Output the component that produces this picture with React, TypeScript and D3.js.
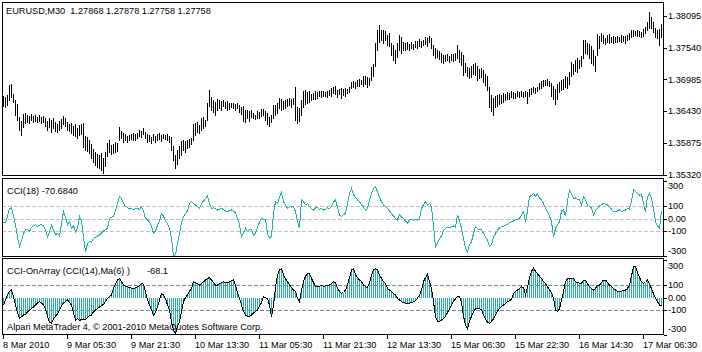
import * as d3 from "d3";

// bar-by-bar values (EURUSD M30)
const barHigh = [
  1.3669, 1.3668, 1.3671, 1.3689, 1.369, 1.3673, 1.3662, 1.3655, 1.3633, 1.3626,
  1.3638, 1.364, 1.3636, 1.3635, 1.3638, 1.3635, 1.3636, 1.3633, 1.3636, 1.3633,
  1.3635, 1.3631, 1.3626, 1.3631, 1.3628, 1.3631, 1.3624, 1.3621, 1.3626, 1.3629,
  1.3635, 1.3631, 1.3624, 1.3621, 1.3622, 1.3617, 1.3621, 1.3614, 1.3619, 1.3621,
  1.3622, 1.36, 1.3598, 1.3593, 1.3586, 1.3577, 1.3572, 1.3568, 1.3566, 1.357,
  1.3561, 1.3572, 1.3587, 1.3593, 1.3584, 1.3586, 1.3589, 1.3587, 1.3615, 1.3608,
  1.3605, 1.3603, 1.36, 1.3601, 1.3603, 1.3605, 1.3603, 1.3605, 1.361, 1.3608,
  1.3614, 1.3607, 1.3603, 1.3601, 1.3598, 1.3603, 1.36, 1.3603, 1.3605, 1.3601,
  1.3603, 1.3601, 1.3603, 1.36, 1.3598, 1.3582, 1.3566, 1.3575, 1.3582, 1.3591,
  1.3593, 1.3591, 1.3593, 1.3594, 1.3596, 1.3621, 1.3622, 1.3624, 1.3619, 1.3631,
  1.3633, 1.3628, 1.3657, 1.368, 1.3668, 1.3662, 1.3659, 1.3664, 1.3662, 1.3661,
  1.3662, 1.3659, 1.3661, 1.3657, 1.3657, 1.3657, 1.3655, 1.3657, 1.3654, 1.365,
  1.3652, 1.3645, 1.3645, 1.3643, 1.3645, 1.364, 1.3636, 1.3643, 1.3642, 1.3647,
  1.3647, 1.3643, 1.364, 1.3633, 1.3636, 1.3654, 1.3654, 1.3657, 1.3666, 1.3664,
  1.3661, 1.3662, 1.3664, 1.3666, 1.3664, 1.3666, 1.3685, 1.365, 1.3648, 1.3662,
  1.3678, 1.368, 1.3676, 1.3678, 1.3673, 1.3675, 1.3678, 1.3676, 1.3678, 1.3678,
  1.3678, 1.3676, 1.3678, 1.368, 1.3683, 1.3685, 1.3687, 1.368, 1.3682, 1.3683,
  1.3682, 1.3683, 1.3682, 1.3685, 1.3694, 1.3696, 1.3694, 1.3697, 1.3699, 1.3697,
  1.3704, 1.3704, 1.3703, 1.3701, 1.372, 1.3725, 1.3762, 1.3785, 1.3793, 1.3785,
  1.3785, 1.3783, 1.3776, 1.3779, 1.3762, 1.3758, 1.375, 1.3762, 1.3776, 1.3772,
  1.3764, 1.3762, 1.3764, 1.376, 1.3764, 1.376, 1.3765, 1.3765, 1.3769, 1.3765,
  1.3767, 1.3772, 1.3771, 1.3774, 1.3771, 1.3758, 1.3753, 1.375, 1.3748, 1.3744,
  1.3741, 1.3741, 1.3743, 1.3739, 1.3743, 1.3743, 1.3744, 1.3758, 1.375, 1.3746,
  1.3741, 1.3727, 1.372, 1.3718, 1.3722, 1.3725, 1.3727, 1.3722, 1.3717, 1.3718,
  1.3715, 1.3708, 1.3704, 1.3685, 1.3671, 1.3666, 1.3669, 1.3671, 1.3673, 1.3671,
  1.3675, 1.3673, 1.3676, 1.3675, 1.3678, 1.3676, 1.3675, 1.3678, 1.3676, 1.3678,
  1.3676, 1.3678, 1.3676, 1.3682, 1.3683, 1.3685, 1.3683, 1.3685, 1.3692, 1.3696,
  1.3697, 1.3697, 1.3699, 1.3696, 1.3692, 1.3687, 1.3682, 1.369, 1.3694, 1.3697,
  1.3699, 1.3704, 1.3703, 1.3711, 1.3729, 1.3725, 1.3732, 1.3736, 1.3732, 1.3739,
  1.3767, 1.3767, 1.3762, 1.376, 1.3757, 1.375, 1.3739, 1.3778, 1.3774, 1.3779,
  1.3776, 1.3771, 1.3776, 1.3778, 1.3772, 1.3774, 1.3772, 1.3774, 1.3772, 1.3776,
  1.3774, 1.3774, 1.3776, 1.3779, 1.3785, 1.3785, 1.3783, 1.3785, 1.3783, 1.3781,
  1.3786, 1.379, 1.3799, 1.3816, 1.3807, 1.3799, 1.3788, 1.3785, 1.3786, 1.3795,
];

const barLow = [
  1.3652, 1.365, 1.3654, 1.3662, 1.3668, 1.3659, 1.3636, 1.3628, 1.361, 1.3601,
  1.3615, 1.3622, 1.3624, 1.3622, 1.3628, 1.3624, 1.3626, 1.3624, 1.3626, 1.3622,
  1.3624, 1.3617, 1.361, 1.3615, 1.3607, 1.3614, 1.3608, 1.3607, 1.361, 1.3614,
  1.3621, 1.3617, 1.361, 1.3608, 1.3605, 1.3601, 1.36, 1.3596, 1.3601, 1.3603,
  1.358, 1.3575, 1.3573, 1.357, 1.3561, 1.3554, 1.3549, 1.3546, 1.3544, 1.354,
  1.3535, 1.3547, 1.3565, 1.3572, 1.3568, 1.357, 1.3572, 1.3573, 1.3593, 1.3596,
  1.3589, 1.3593, 1.3589, 1.3593, 1.3594, 1.3593, 1.3593, 1.3596, 1.36, 1.3598,
  1.3603, 1.3596, 1.3589, 1.3591, 1.3587, 1.3593, 1.3589, 1.3593, 1.3594, 1.3591,
  1.3596, 1.3594, 1.3593, 1.3589, 1.3575, 1.3558, 1.3544, 1.3551, 1.3561, 1.3566,
  1.3575, 1.3572, 1.3579, 1.358, 1.3586, 1.3593, 1.3601, 1.3607, 1.3605, 1.361,
  1.3614, 1.3617, 1.3628, 1.3652, 1.3645, 1.3642, 1.3636, 1.3645, 1.3648, 1.3645,
  1.3652, 1.3648, 1.3645, 1.3647, 1.365, 1.3648, 1.3645, 1.3648, 1.3642, 1.3638,
  1.3626, 1.3624, 1.3631, 1.3626, 1.3633, 1.3631, 1.3629, 1.3631, 1.3631, 1.3635,
  1.3636, 1.3628, 1.3621, 1.3617, 1.3624, 1.3631, 1.3636, 1.364, 1.3648, 1.3645,
  1.3647, 1.3648, 1.3652, 1.3654, 1.365, 1.3655, 1.3628, 1.3622, 1.3626, 1.3636,
  1.365, 1.3655, 1.3657, 1.3659, 1.3662, 1.3664, 1.3664, 1.3666, 1.3669, 1.3668,
  1.3669, 1.3669, 1.3668, 1.3671, 1.3669, 1.3675, 1.3673, 1.3668, 1.3673, 1.3666,
  1.3671, 1.3669, 1.3675, 1.3676, 1.3683, 1.3685, 1.3683, 1.3687, 1.3687, 1.369,
  1.3687, 1.369, 1.3685, 1.3689, 1.3697, 1.3704, 1.3722, 1.375, 1.3764, 1.3767,
  1.3762, 1.3767, 1.3758, 1.3757, 1.3741, 1.3732, 1.3727, 1.3737, 1.375, 1.3744,
  1.375, 1.375, 1.3751, 1.375, 1.3753, 1.3751, 1.3755, 1.3753, 1.3757, 1.3755,
  1.3758, 1.376, 1.3757, 1.3764, 1.3753, 1.3741, 1.3736, 1.3737, 1.3734, 1.3729,
  1.3727, 1.3731, 1.3732, 1.3729, 1.3732, 1.3731, 1.3732, 1.3736, 1.3729, 1.3724,
  1.3706, 1.3711, 1.3704, 1.3701, 1.3703, 1.3708, 1.3706, 1.3697, 1.3701, 1.3703,
  1.3694, 1.3689, 1.368, 1.365, 1.3643, 1.3636, 1.365, 1.3652, 1.3655, 1.3657,
  1.3659, 1.3662, 1.3664, 1.3664, 1.3668, 1.3666, 1.3666, 1.3669, 1.3668, 1.3669,
  1.3668, 1.3669, 1.3657, 1.3669, 1.3673, 1.3676, 1.3675, 1.3678, 1.3682, 1.3683,
  1.3687, 1.3689, 1.3689, 1.3687, 1.3669, 1.3664, 1.3655, 1.3664, 1.3676, 1.368,
  1.3682, 1.3685, 1.3683, 1.369, 1.3704, 1.3708, 1.3713, 1.3711, 1.3718, 1.3722,
  1.3736, 1.3744, 1.3743, 1.3736, 1.3727, 1.3724, 1.3713, 1.3741, 1.3753, 1.3765,
  1.3762, 1.376, 1.3764, 1.3762, 1.3764, 1.3762, 1.3764, 1.3764, 1.3765, 1.3764,
  1.3765, 1.3762, 1.3767, 1.3769, 1.3772, 1.3774, 1.3776, 1.3774, 1.3774, 1.3772,
  1.3774, 1.3779, 1.3785, 1.3788, 1.3788, 1.3781, 1.3772, 1.3771, 1.3758, 1.3772,
];

const cci18 = [
  -30, -35, 20, 80, 87, 20, -52, -150, -225, -180,
  -120, -92, -85, -105, -70, -55, -50, -62, -55, -48,
  -60, -92, -145, -110, -52, -90, -130, -118, -140, -40,
  55, 10, -50, -25, -79, -60, -105, -80, 15, -20,
  -150, -265, -200, -185, -190, -159, -150, -140, -132, -118,
  -100, -90, -79, 1, 10, 15, 60, 120, 175, 160,
  120, 95, 90, 75, 80, 70, 78, 81, 72, 95,
  60, 1, -10, -30, -60, -118, -100, -52, -20, 41,
  20, -25, -40, -79, -160, -305, -290, -200, -120, -30,
  15, 40, 60, 121, 135, 120, 108, 95, 81, 121,
  140, 160, 180, 120, 81, 85, 81, 67, 75, 81,
  70, 60, 55, 65, 68, 55, 49, 1, -52, -145,
  -120, -79, -105, -90, -92, -132, -118, -70, -30, 1,
  -5, -12, -118, -159, -140, 40, 135, 121, 170, 209,
  135, 110, 81, 95, 90, 95, 55, -20, -79, 148,
  135, 110, 120, 95, 80, 68, 85, 87, 75, 80,
  68, 75, 85, 78, 100, 130, 148, 90, 28, 15,
  30, 41, 120, 200, 241, 188, 170, 148, 135, 110,
  90, 68, 81, 150, 200, 240, 255, 215, 170, 135,
  108, 95, 80, 60, 40, 20, 1, -12, 33, 10,
  1, -20, -39, -10, -5, -15, -8, -12, -5, 81,
  110, 135, 108, 120, 95, -60, -225, -200, -159, -140,
  -100, -79, -70, -75, -66, -60, -70, 28, -20, -79,
  -160, -240, -265, -210, -185, -120, -65, -80, -92, -90,
  -118, -150, -172, -225, -210, -150, -120, -92, -75, -65,
  -62, -55, -45, -35, -25, -20, -10, -5, 1, 28,
  55, -25, 60, 175, 185, 201, 180, 195, 161, 150,
  120, 81, 55, 20, -25, -145, -80, -52, -25, 60,
  68, 20, 140, 228, 200, 161, 165, 150, 148, 108,
  175, 150, 108, 95, 85, 28, 60, 81, 100, 110,
  121, 115, 108, 90, 75, 55, 60, 60, 68, 55,
  62, 68, 81, 75, 140, 228, 215, 200, 188, 195,
  120, 55, 175, 201, 160, 80, -25, -60, -79, 60,
];

const cciOnArray = [
  -60, -20, 20, 50, 60, 7, -60, -120, -167, -155,
  -140, -135, -115, -100, -90, -75, -60, -45, -33, -45,
  -60, -90, -150, -200, -207, -170, -150, -130, -100, -70,
  -40, -33, -20, -40, -60, -127, -180, -170, -185, -175,
  -180, -178, -160, -145, -140, -115, -100, -90, -75, -65,
  -55, -33, -7, 10, 20, 73, 110, 140, 153, 127,
  100, 87, 87, 80, 75, 73, 78, 85, 95, 113,
  105, 47, -20, -60, -100, -140, -120, -73, -20, 33,
  20, -10, -60, -100, -193, -260, -295, -230, -193, -110,
  -33, 0, 20, 50, 73, 127, 120, 110, 100, 113,
  125, 140, 153, 159, 140, 120, 100, 100, 110, 120,
  127, 120, 120, 127, 135, 140, 100, 40, -7, -60,
  -110, -140, -153, -150, -140, -125, -113, -100, -70, -40,
  7, 0, -10, -60, -153, -60, 80, 180, 220, 233,
  180, 150, 127, 100, 80, 60, 47, -7, -33, 60,
  127, 170, 193, 190, 153, 120, 87, 87, 90, 95,
  90, 93, 100, 100, 113, 127, 120, 73, 50, 33,
  40, 60, 100, 160, 220, 233, 180, 160, 140, 127,
  100, 87, 80, 120, 180, 220, 233, 220, 180, 153,
  127, 113, 73, 60, 47, 33, 20, -7, -20, -33,
  -40, -47, -47, -45, -40, -35, -25, -5, 20, 60,
  127, 160, 185, 127, 73, -33, -153, -193, -190, -180,
  -170, -150, -120, -90, -60, -30, -10, 7, 10, -40,
  -150, -220, -252, -193, -150, -113, -90, -87, -90, -100,
  -140, -170, -200, -207, -190, -170, -140, -110, -87, -70,
  -60, -47, -35, -25, -15, 33, 50, 60, 73, 87,
  80, 20, 80, 160, 210, 233, 210, 190, 170, 153,
  127, 110, 87, 60, 40, -7, -100, -113, -90, -20,
  47, 127, 150, 153, 153, 153, 127, 120, 113, 113,
  140, 140, 110, 87, 70, 60, 73, 100, 100, 120,
  140, 140, 120, 100, 87, 73, 60, 50, 47, 50,
  60, 60, 73, 100, 173, 247, 245, 200, 160, 127,
  113, 120, 140, 110, 70, 30, -7, -33, -60, -68,
];

const timeLabels = [
  "8 Mar 2010", "9 Mar 05:30", "9 Mar 21:30", "10 Mar 13:30", "11 Mar 05:30",
  "11 Mar 21:30", "12 Mar 13:30", "15 Mar 06:30", "15 Mar 22:30", "16 Mar 14:30",
  "17 Mar 06:30",
];
const BARS_PER_LABEL = 32;

const priceTicks = [1.38095, 1.3754, 1.36985, 1.3643, 1.35875, 1.3532];
const oscTicks = [300, 100, 0, -100, -300];
const cciLevels = [100, 0, -100];
const onArrayLevels = [100, -100];

const W = 702;
const H = 352;
const LEFT = 2;
const RIGHT = 663;
const FONT = "'Liberation Sans', Arial, sans-serif";
const FS = 9.2;
const TEAL = "#20b2aa";

const PANES = {
  main: { top: 2, bottom: 175 },
  cci: { top: 178, bottom: 256 },
  osc: { top: 258, bottom: 334 },
};

const x = d3.scaleLinear().domain([0, barHigh.length - 1]).range([3.5, 661.5]);
const yPrice = d3.scaleLinear().domain([1.35299, 1.38318]).range([176, 3]);
const yCci = d3.scaleLinear().domain([-300, 300]).range([256, 181]);
const yOsc = d3.scaleLinear().domain([-300, 300]).range([335, 260]);

function Frame({ top, bottom }: { top: number; bottom: number }) {
  return (
    <rect
      x={LEFT + 0.5}
      y={top + 0.5}
      width={RIGHT - LEFT}
      height={bottom - top}
      fill="none"
      stroke="#000"
      shapeRendering="crispEdges"
    />
  );
}

function AxisLabels({
  ticks,
  scale,
  top,
  bottom,
  fmt,
}: {
  ticks: number[];
  scale: d3.ScaleLinear<number, number>;
  top: number;
  bottom: number;
  fmt: (v: number) => string;
}) {
  return (
    <g>
      {ticks.map((t) => {
        const ty = Math.round(scale(t)) + 0.5;
        const ly = Math.max(top + 8, Math.min(bottom - 5, scale(t)));
        return (
          <g key={t}>
            <line x1={RIGHT + 1} x2={RIGHT + 4} y1={ty} y2={ty} stroke="#000" shapeRendering="crispEdges" />
            <text x={RIGHT + 5} y={ly} dy="0.35em" fontFamily={FONT} fontSize={FS}>
              {fmt(t)}
            </text>
          </g>
        );
      })}
    </g>
  );
}

export default function App() {
  const cciLine = d3
    .line<number>()
    .x((_, i) => x(i))
    .y((v) => yCci(v))(cci18);
  const oscLine = d3
    .line<number>()
    .x((_, i) => x(i))
    .y((v) => yOsc(v))(cciOnArray);
  const zeroY = yOsc(0);

  return (
    <svg
      width={W}
      height={H}
      viewBox={`0 0 ${W} ${H}`}
      style={{ position: "absolute", left: 0, top: 0, background: "#fff" }}
    >
      <defs>
        {Object.entries(PANES).map(([k, p]) => (
          <clipPath id={`clip-${k}`} key={k}>
            <rect x={LEFT + 1} y={p.top + 1} width={RIGHT - LEFT - 1} height={p.bottom - p.top - 1} />
          </clipPath>
        ))}
      </defs>

      {/* price pane */}
      <g clipPath="url(#clip-main)">
        {barHigh.map((h, i) => {
          const top = Math.round(yPrice(h));
          const bottom = Math.round(yPrice(barLow[i]));
          return (
            <rect
              key={i}
              x={x(i) - 0.5}
              y={top}
              width={1}
              height={Math.max(1, bottom - top + 1)}
              fill="#000"
              shapeRendering="crispEdges"
            />
          );
        })}
      </g>
      <text x={6} y={14} fontFamily={FONT} fontSize={FS} style={{ whiteSpace: "pre" }}>
        {"EURUSD,M30  1.27868 1.27878 1.27758 1.27758"}
      </text>
      <Frame {...PANES.main} />
      <AxisLabels
        ticks={priceTicks}
        scale={yPrice}
        top={-10}
        bottom={400}
        fmt={(v) => v.toFixed(5)}
      />

      {/* CCI(18) pane */}
      <g clipPath="url(#clip-cci)">
        {cciLevels.map((l) => (
          <line
            key={l}
            x1={LEFT}
            x2={RIGHT}
            y1={Math.round(yCci(l)) + 0.5}
            y2={Math.round(yCci(l)) + 0.5}
            stroke="#c0c0c0"
            strokeDasharray="4,2"
            shapeRendering="crispEdges"
          />
        ))}
        <path d={cciLine ?? ""} fill="none" stroke={TEAL} strokeWidth={1} shapeRendering="crispEdges" />
      </g>
      <text x={7} y={194} fontFamily={FONT} fontSize={FS}>
        CCI(18) -70.6840
      </text>
      <Frame {...PANES.cci} />
      <AxisLabels
        ticks={oscTicks}
        scale={yCci}
        top={PANES.cci.top}
        bottom={PANES.cci.bottom}
        fmt={(v) => (v === 0 ? "0.00" : String(v))}
      />

      {/* CCI-OnArray pane */}
      <g clipPath="url(#clip-osc)">
        {onArrayLevels.map((l) => (
          <line
            key={l}
            x1={LEFT}
            x2={RIGHT}
            y1={Math.round(yOsc(l)) + 0.5}
            y2={Math.round(yOsc(l)) + 0.5}
            stroke="#778899"
            strokeDasharray="4,2"
            shapeRendering="crispEdges"
          />
        ))}
        {cciOnArray.map((v, i) => {
          const vy = yOsc(v);
          return (
            <rect
              key={i}
              x={x(i) - 0.5}
              y={Math.min(zeroY, vy)}
              width={1}
              height={Math.abs(vy - zeroY)}
              fill={TEAL}
              shapeRendering="crispEdges"
            />
          );
        })}
        <path d={oscLine ?? ""} fill="none" stroke="#000" strokeWidth={1} shapeRendering="crispEdges" />
      </g>
      <text x={7} y={274} fontFamily={FONT} fontSize={FS} style={{ whiteSpace: "pre" }}>
        {"CCI-OnArray (CCI(14),Ma(6) )"}
      </text>
      <text x={147} y={274} fontFamily={FONT} fontSize={FS}>
        -68.1
      </text>
      <text x={7} y={330} fontFamily={FONT} fontSize={FS}>
        Alpari MetaTrader 4, © 2001-2010 MetaQuotes Software Corp.
      </text>
      <Frame {...PANES.osc} />
      <AxisLabels
        ticks={oscTicks}
        scale={yOsc}
        top={PANES.osc.top}
        bottom={PANES.osc.bottom}
        fmt={(v) => (v === 0 ? "0.00" : String(v))}
      />

      {/* time axis */}
      {timeLabels.map((label, k) => {
        const tx = x(k * BARS_PER_LABEL);
        return (
          <g key={label}>
            <line x1={tx} x2={tx} y1={PANES.osc.bottom + 1} y2={PANES.osc.bottom + 5} stroke="#000" shapeRendering="crispEdges" />
            <text x={tx - 0.5} y={348} fontFamily={FONT} fontSize={FS}>
              {label}
            </text>
          </g>
        );
      })}
    </svg>
  );
}
